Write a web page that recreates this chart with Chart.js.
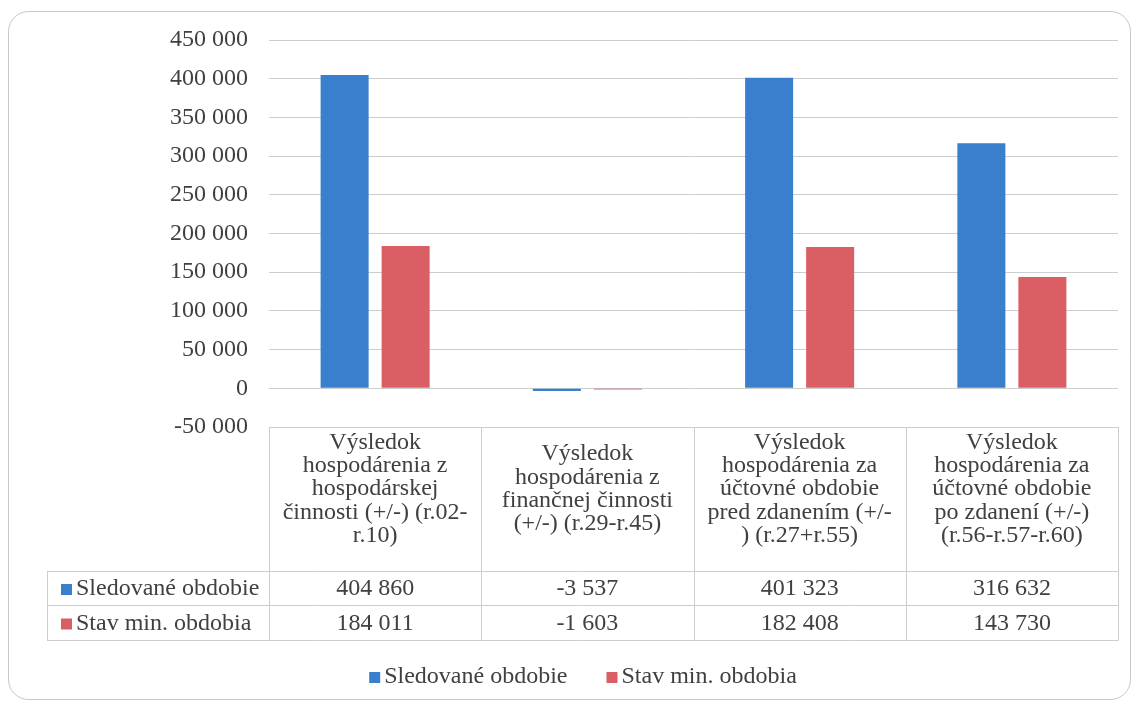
<!DOCTYPE html>
<html>
<head>
<meta charset="utf-8">
<script src="https://cdn.jsdelivr.net/npm/chart.js@4/dist/chart.umd.min.js"></script>
<style>
  body { margin: 0; background: #fff; }
  canvas { display: block; }
</style>
</head>
<body>
<canvas id="theCanvas" width="1136" height="708"></canvas>
<script>
// category labels, already wrapped the way the table shows them
var categories = [
    ['Výsledok', 'hospodárenia z', 'hospodárskej', 'činnosti (+/-) (r.02-', 'r.10)'],
    ['Výsledok', 'hospodárenia z', 'finančnej činnosti', '(+/-) (r.29-r.45)'],
    ['Výsledok', 'hospodárenia za', 'účtovné obdobie', 'pred zdanením (+/-', ') (r.27+r.55)'],
    ['Výsledok', 'hospodárenia za', 'účtovné obdobie', 'po zdanení (+/-)', '(r.56-r.57-r.60)']
];
var seriesNames = ['Sledované obdobie', 'Stav min. obdobia'];
var sledovane = [404860, -3537, 401323, 316632];
var stavMin = [184011, -1603, 182408, 143730];
var yTicks = { min: -50000, max: 450000, step: 50000 };

var blue = '#3a7fce';
var red = '#da5f64';
var textColor = '#404040';
var lineColor = '#cdcdcd';
var fontFamily = '"Liberation Serif", "Times New Roman", serif';

function fmt(v) {
    var s = String(Math.abs(v)).replace(/\B(?=(\d{3})+(?!\d))/g, ' ');
    return (v < 0 ? '-' : '') + s;
}

// rounded frame round the whole chart
var framePlugin = {
    id: 'frame',
    beforeDraw: function(chart) {
        var ctx = chart.ctx;
        ctx.save();
        ctx.fillStyle = '#fff';
        ctx.fillRect(0, 0, chart.width, chart.height);
        ctx.strokeStyle = '#c8c8c8';
        ctx.lineWidth = 1;
        ctx.beginPath();
        ctx.roundRect(8.5, 11.5, 1122, 688, 20);
        ctx.stroke();
        ctx.restore();
    }
};

// data table under the plot + legend
var tablePlugin = {
    id: 'dataTable',
    afterDraw: function(chart) {
        var ctx = chart.ctx;
        var area = chart.chartArea;
        var xs = chart.scales.x;
        var n = chart.data.labels.length;
        var colW = (area.right - area.left) / n;
        var labelLeft = 47;
        var headTop = Math.round(area.bottom);
        var headBottom = 571;
        var rowBottoms = [605, 640];

        ctx.save();
        ctx.strokeStyle = lineColor;
        ctx.lineWidth = 1;
        ctx.beginPath();
        // horizontal lines
        ctx.moveTo(area.left, headTop + 0.5);
        ctx.lineTo(area.right, headTop + 0.5);
        ctx.moveTo(labelLeft, headBottom + 0.5);
        ctx.lineTo(area.right, headBottom + 0.5);
        for (var r = 0; r < rowBottoms.length; r++) {
            ctx.moveTo(labelLeft, rowBottoms[r] + 0.5);
            ctx.lineTo(area.right, rowBottoms[r] + 0.5);
        }
        // vertical lines
        for (var i = 0; i <= n; i++) {
            var x = Math.round(area.left + colW * i) + 0.5;
            ctx.moveTo(x, headTop);
            ctx.lineTo(x, rowBottoms[rowBottoms.length - 1] + 0.5);
        }
        ctx.moveTo(labelLeft + 0.5, headBottom);
        ctx.lineTo(labelLeft + 0.5, rowBottoms[rowBottoms.length - 1] + 0.5);
        ctx.stroke();

        ctx.font = '24px ' + fontFamily;
        ctx.fillStyle = textColor;
        ctx.textAlign = 'center';
        ctx.textBaseline = 'middle';

        // header: category names
        var lineH = 23.3;
        var headMid = 489;
        for (var c = 0; c < n; c++) {
            var cx = xs.getPixelForValue(c);
            var lines = chart.data.labels[c];
            var y0 = headMid - (lines.length - 1) * lineH / 2;
            for (var l = 0; l < lines.length; l++) {
                ctx.fillText(lines[l], cx, y0 + l * lineH);
            }
        }

        // data rows
        var prevBottom = headBottom;
        chart.data.datasets.forEach(function(ds, d) {
            var mid = (prevBottom + rowBottoms[d]) / 2 + 1;
            prevBottom = rowBottoms[d];
            ctx.fillStyle = ds.backgroundColor;
            ctx.fillRect(labelLeft + 14, mid - 5, 11, 11);
            ctx.fillStyle = textColor;
            ctx.textAlign = 'left';
            ctx.fillText(ds.label, labelLeft + 29, mid);
            ctx.textAlign = 'center';
            for (var c = 0; c < n; c++) {
                ctx.fillText(fmt(ds.data[c]), xs.getPixelForValue(c), mid);
            }
        });

        // legend
        var legY = 677;
        var boxS = 11, gapBox = 4, gapItem = 39;
        var widths = chart.data.datasets.map(function(ds) { return ctx.measureText(ds.label).width; });
        var total = 0;
        widths.forEach(function(w, k) { total += boxS + gapBox + w + (k > 0 ? gapItem : 0); });
        var lx = 583 - total / 2;
        ctx.textAlign = 'left';
        chart.data.datasets.forEach(function(ds, d) {
            ctx.fillStyle = ds.backgroundColor;
            ctx.fillRect(lx, legY - 5, boxS, boxS);
            ctx.fillStyle = textColor;
            ctx.fillText(ds.label, lx + boxS + gapBox, legY);
            lx += boxS + gapBox + widths[d] + gapItem;
        });
        ctx.restore();
    }
};

var ctx = document.getElementById('theCanvas');
var myChart = new Chart(ctx, {
    type: 'bar',
    data: {
        labels: categories,
        datasets: [{
            label: seriesNames[0],
            data: sledovane,
            backgroundColor: blue
        }, {
            label: seriesNames[1],
            data: stavMin,
            backgroundColor: red
        }]
    },
    options: {
        responsive: false,
        animation: false,
        layout: { padding: { top: 40, right: 18, bottom: 281, left: 0 } },
        categoryPercentage: 0.575,
        barPercentage: 0.787,
        plugins: {
            legend: { display: false },
            tooltip: { enabled: false }
        },
        scales: {
            x: { display: false },
            y: {
                min: yTicks.min,
                max: yTicks.max,
                border: { display: false },
                grid: { color: lineColor, drawTicks: false },
                ticks: {
                    stepSize: yTicks.step,
                    padding: 21,
                    color: textColor,
                    font: { family: fontFamily, size: 24 },
                    callback: function(v) { return fmt(v); }
                },
                afterFit: function(scale) { scale.width = 269; }
            }
        }
    },
    plugins: [framePlugin, tablePlugin]
});
</script>
</body>
</html>
